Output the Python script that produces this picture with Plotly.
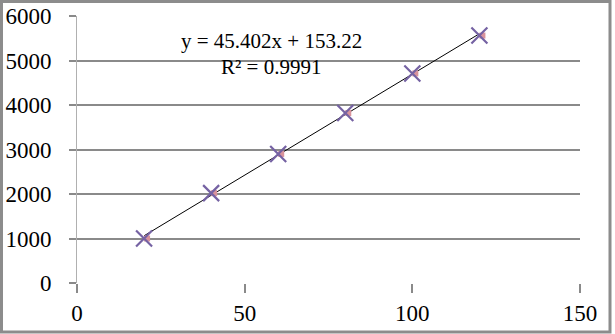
import plotly.graph_objects as go

x_vals = [20, 40, 60, 80, 100, 120]
y_vals = [1000, 2020, 2900, 3820, 4710, 5560]
slope = 45.402
intercept = 153.22
x_ticks = [0, 50, 100, 150]
y_ticks = [0, 1000, 2000, 3000, 4000, 5000, 6000]
eq_text = "y = 45.402x + 153.22"
r2_text = "R² = 0.9991"

trend_x = [min(x_vals), max(x_vals)]
trend_y = [slope * v + intercept for v in trend_x]

W, H = 615, 334
ml, mr, mt, mb = 77, 35, 16, 51
pw, ph = W - ml - mr, H - mt - mb

FAM = "Times New Roman, Liberation Serif, serif"
font = dict(family=FAM, size=23, color="black")
grid = "#8a8a8a"

fig = go.Figure()
fig.add_trace(go.Scatter(x=trend_x, y=trend_y, mode="lines",
                         line=dict(color="black", width=1), showlegend=False))
# pink series drawn on a hidden overlay axis, slightly shifted like in the original
fig.add_trace(go.Scatter(x=x_vals, y=y_vals, mode="markers", xaxis="x2",
                         marker=dict(symbol="square", size=6, color="#d9939c"),
                         showlegend=False, hoverinfo="skip"))
fig.add_trace(go.Scatter(x=x_vals, y=y_vals, mode="markers", xaxis="x3",
                         marker=dict(symbol="x-thin", size=16, color="#7562a3",
                                     line=dict(width=2.2, color="#7562a3")),
                         showlegend=False))

fig.update_layout(
    template="none",
    width=W, height=H,
    margin=dict(l=ml, r=mr, t=mt, b=mb, pad=0, autoexpand=False),
    paper_bgcolor="white", plot_bgcolor="white",
    font=font,
    xaxis=dict(range=[0, 150], tickvals=x_ticks, showgrid=False, zeroline=False,
               showline=False, ticks="outside", ticklen=9, tickcolor=grid, tickwidth=1.5,
               tickfont=font, ticklabelstandoff=0, automargin=False, fixedrange=True),
    xaxis2=dict(range=[-0.9, 149.1], overlaying="x", visible=False, fixedrange=True),
    xaxis3=dict(range=[0, 150], overlaying="x", visible=False, fixedrange=True),
    yaxis=dict(range=[0, 6000], tickvals=y_ticks, showgrid=True, gridcolor=grid, gridwidth=1.8,
               zeroline=False, showline=True, linecolor="#b0b0b0", linewidth=1,
               ticks="outside", ticklen=7, tickcolor=grid, tickwidth=1.8,
               tickfont=font, ticklabelstandoff=13, automargin=False, fixedrange=True),
    annotations=[
        dict(text=eq_text, xref="paper", yref="paper", x=(271 - ml) / pw, y=(mt + ph - 41) / ph,
             showarrow=False, font=dict(family=FAM, size=21, color="black"),
             xanchor="center", yanchor="middle"),
        dict(text=r2_text, xref="paper", yref="paper", x=(271 - ml) / pw, y=(mt + ph - 67) / ph,
             showarrow=False, font=dict(family=FAM, size=21, color="black"),
             xanchor="center", yanchor="middle"),
    ],
    shapes=[
        dict(type="rect", xref="paper", yref="paper",
             x0=(1.5 - ml) / pw, x1=(610 - ml) / pw,
             y0=(mt + ph - 332) / ph, y1=(mt + ph - 1.5) / ph,
             line=dict(color="#8c8c8c", width=3), fillcolor="rgba(0,0,0,0)", layer="above"),
    ],
)

fig.write_html("out.html")
